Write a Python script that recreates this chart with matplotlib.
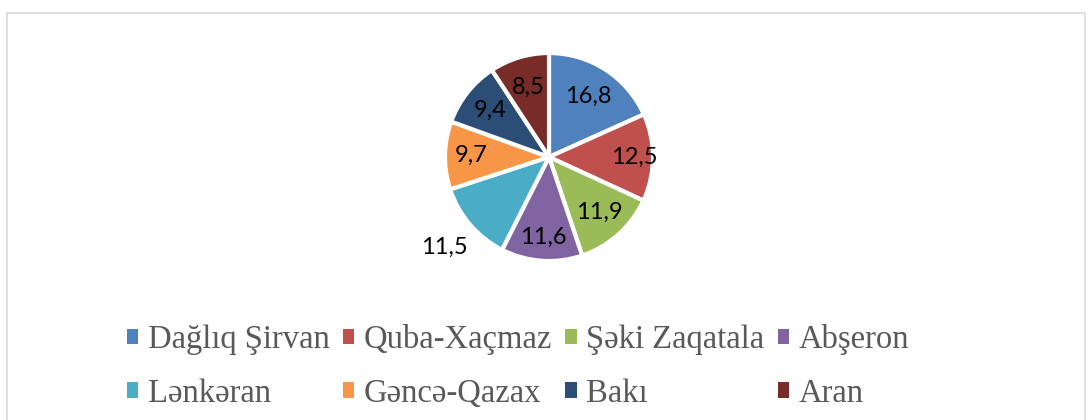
import numpy as np
import matplotlib.pyplot as plt
from matplotlib.patches import Rectangle, Patch

regions = ["Dağlıq Şirvan", "Quba-Xaçmaz", "Şəki Zaqatala", "Abşeron",
           "Lənkəran", "Gəncə-Qazax", "Bakı", "Aran"]
values = [16.8, 12.5, 11.9, 11.6, 11.5, 9.7, 9.4, 8.5]
value_labels = ["16,8", "12,5", "11,9", "11,6", "11,5", "9,7", "9,4", "8,5"]
colors = ["#4F81BD", "#C0504D", "#9BBB59", "#8064A2",
          "#4BACC6", "#F79646", "#2C4D75", "#772C2A"]
label_r = [0.70, 0.82, 0.72, 0.77, 1.33, 0.75, 0.72, 0.70]

W, H = 1091, 420
fig = plt.figure(figsize=(W / 100, H / 100), dpi=100)

# chart frame
fig.patches.append(Rectangle((7 / W, -0.05), 1078 / W, 1.05 - 13 / H,
                             transform=fig.transFigure, fill=False,
                             edgecolor="#D9D9D9", linewidth=1.2))

R = 104
cx, cy = 549, H - 157
ax = fig.add_axes([(cx - 1.5 * R) / W, (cy - 1.5 * R) / H, 3 * R / W, 3 * R / H])

wedges, _ = ax.pie(values, colors=colors, startangle=90, counterclock=False,
                   radius=1.0, wedgeprops=dict(edgecolor="white", linewidth=3.0))
ax.set_xlim(-1.5, 1.5)
ax.set_ylim(-1.5, 1.5)
ax.set_aspect("equal")
ax.axis("off")

for w, lab, r in zip(wedges, value_labels, label_r):
    ang = np.deg2rad((w.theta1 + w.theta2) / 2)
    ax.text(r * np.cos(ang), r * np.sin(ang), lab, ha="center", va="center",
            fontsize=17, family="Lato", color="black", clip_on=False)

# legend fills column-wise, so reorder to get the row-wise layout
ncol = 4
order = [i for c in range(ncol) for i in range(c, len(regions), ncol)]
handles = [Patch(facecolor=colors[i], edgecolor="none") for i in order]
labels = [regions[i] for i in order]
fig.legend(handles, labels, loc="center", bbox_to_anchor=(518 / W, 1 - 366.5 / H),
           ncol=ncol, frameon=False,
           prop=dict(family="Liberation Serif", size=23.5),
           labelcolor="#595959", handlelength=0.35, handleheight=0.35,
           handletextpad=0.3, columnspacing=0.4, labelspacing=0.7)

fig.savefig("out.png", dpi=100)
